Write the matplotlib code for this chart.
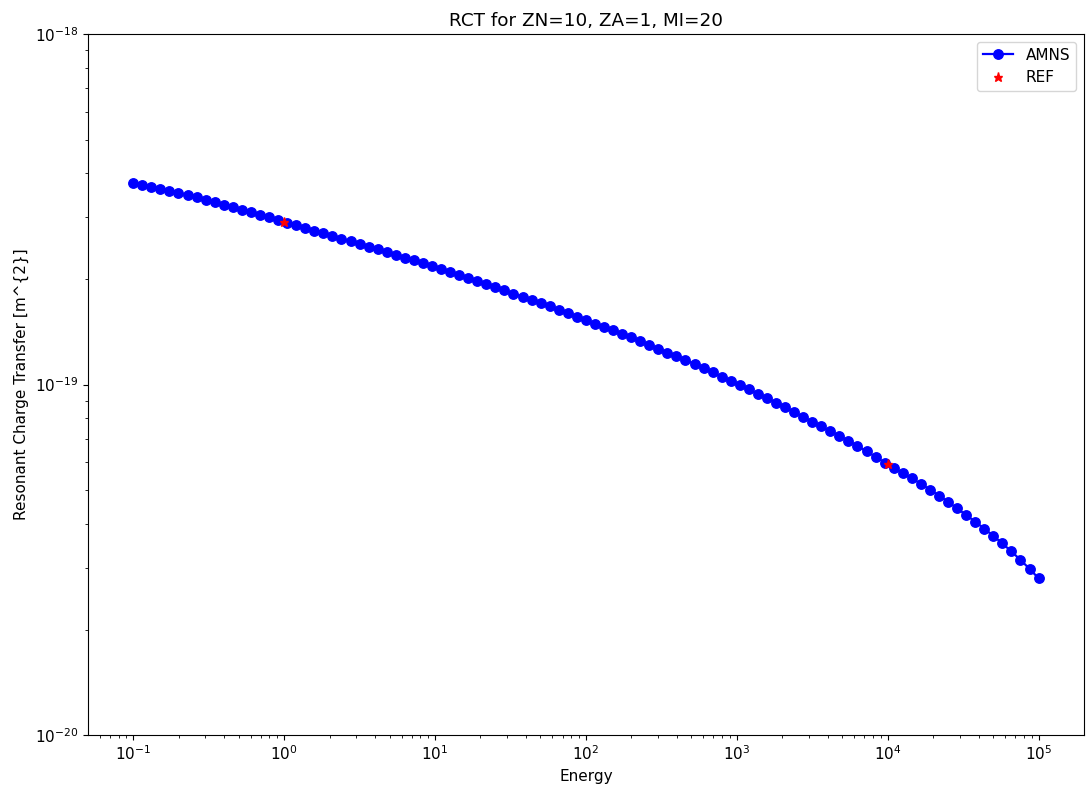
import numpy as np
import matplotlib
matplotlib.use("Agg")
import matplotlib.pyplot as plt

plt.rcParams['font.size'] = 11

# Energy grid (101 log-spaced points, 0.1 .. 1e5)
energy = np.logspace(-1, 5, 101)

# AMNS resonant charge transfer cross sections, in units of 1e-19 m^2
amns_1e19 = [
    3.764, 3.714, 3.665, 3.615, 3.565, 3.516, 3.466, 3.416, 3.367,
    3.315, 3.262, 3.209, 3.156, 3.103, 3.050, 2.997, 2.944,
    2.893, 2.846, 2.798, 2.750, 2.703, 2.655, 2.607, 2.560, 2.512,
    2.470, 2.428, 2.387, 2.345, 2.303, 2.261, 2.220, 2.178,
    2.137, 2.097, 2.057, 2.016, 1.976, 1.936, 1.895, 1.855,
    1.816, 1.779, 1.743, 1.706, 1.670, 1.633, 1.597, 1.560, 1.524,
    1.492, 1.459, 1.427, 1.394, 1.362, 1.330, 1.297, 1.265,
    1.234, 1.204, 1.174, 1.144, 1.113, 1.083, 1.053, 1.023,
    0.994, 0.968, 0.941, 0.915, 0.888, 0.862, 0.835, 0.809, 0.782,
    0.759, 0.736, 0.714, 0.691, 0.668, 0.645, 0.622, 0.599,
    0.579, 0.559, 0.540, 0.521, 0.501, 0.482, 0.463, 0.443,
    0.4245, 0.406, 0.388, 0.370, 0.352, 0.334, 0.316, 0.298, 0.280,
]
amns = [v * 1e-19 for v in amns_1e19]

# Reference points
ref_energy = [1.0, 1.0e4]
ref_values = [2.91e-19, 5.92e-20]

fig = plt.figure(figsize=(10.86, 7.96), dpi=100)
ax = fig.add_axes([0.081, 0.0766, 0.917, 0.8807])
ax.loglog(energy, amns, 'bo-', markersize=6.8, linewidth=1.6, label='AMNS')
ax.loglog(ref_energy, ref_values, 'r*', markersize=6.6, label='REF')
ax.set_ylim(1e-20, 1e-18)
ax.set_xlabel('Energy')
ax.set_ylabel('Resonant Charge Transfer [m^{2}]')
ax.set_title('RCT for ZN=10, ZA=1, MI=20', fontsize=13.2)
ax.legend(loc='upper right')
fig.savefig('out.png', dpi=100)
